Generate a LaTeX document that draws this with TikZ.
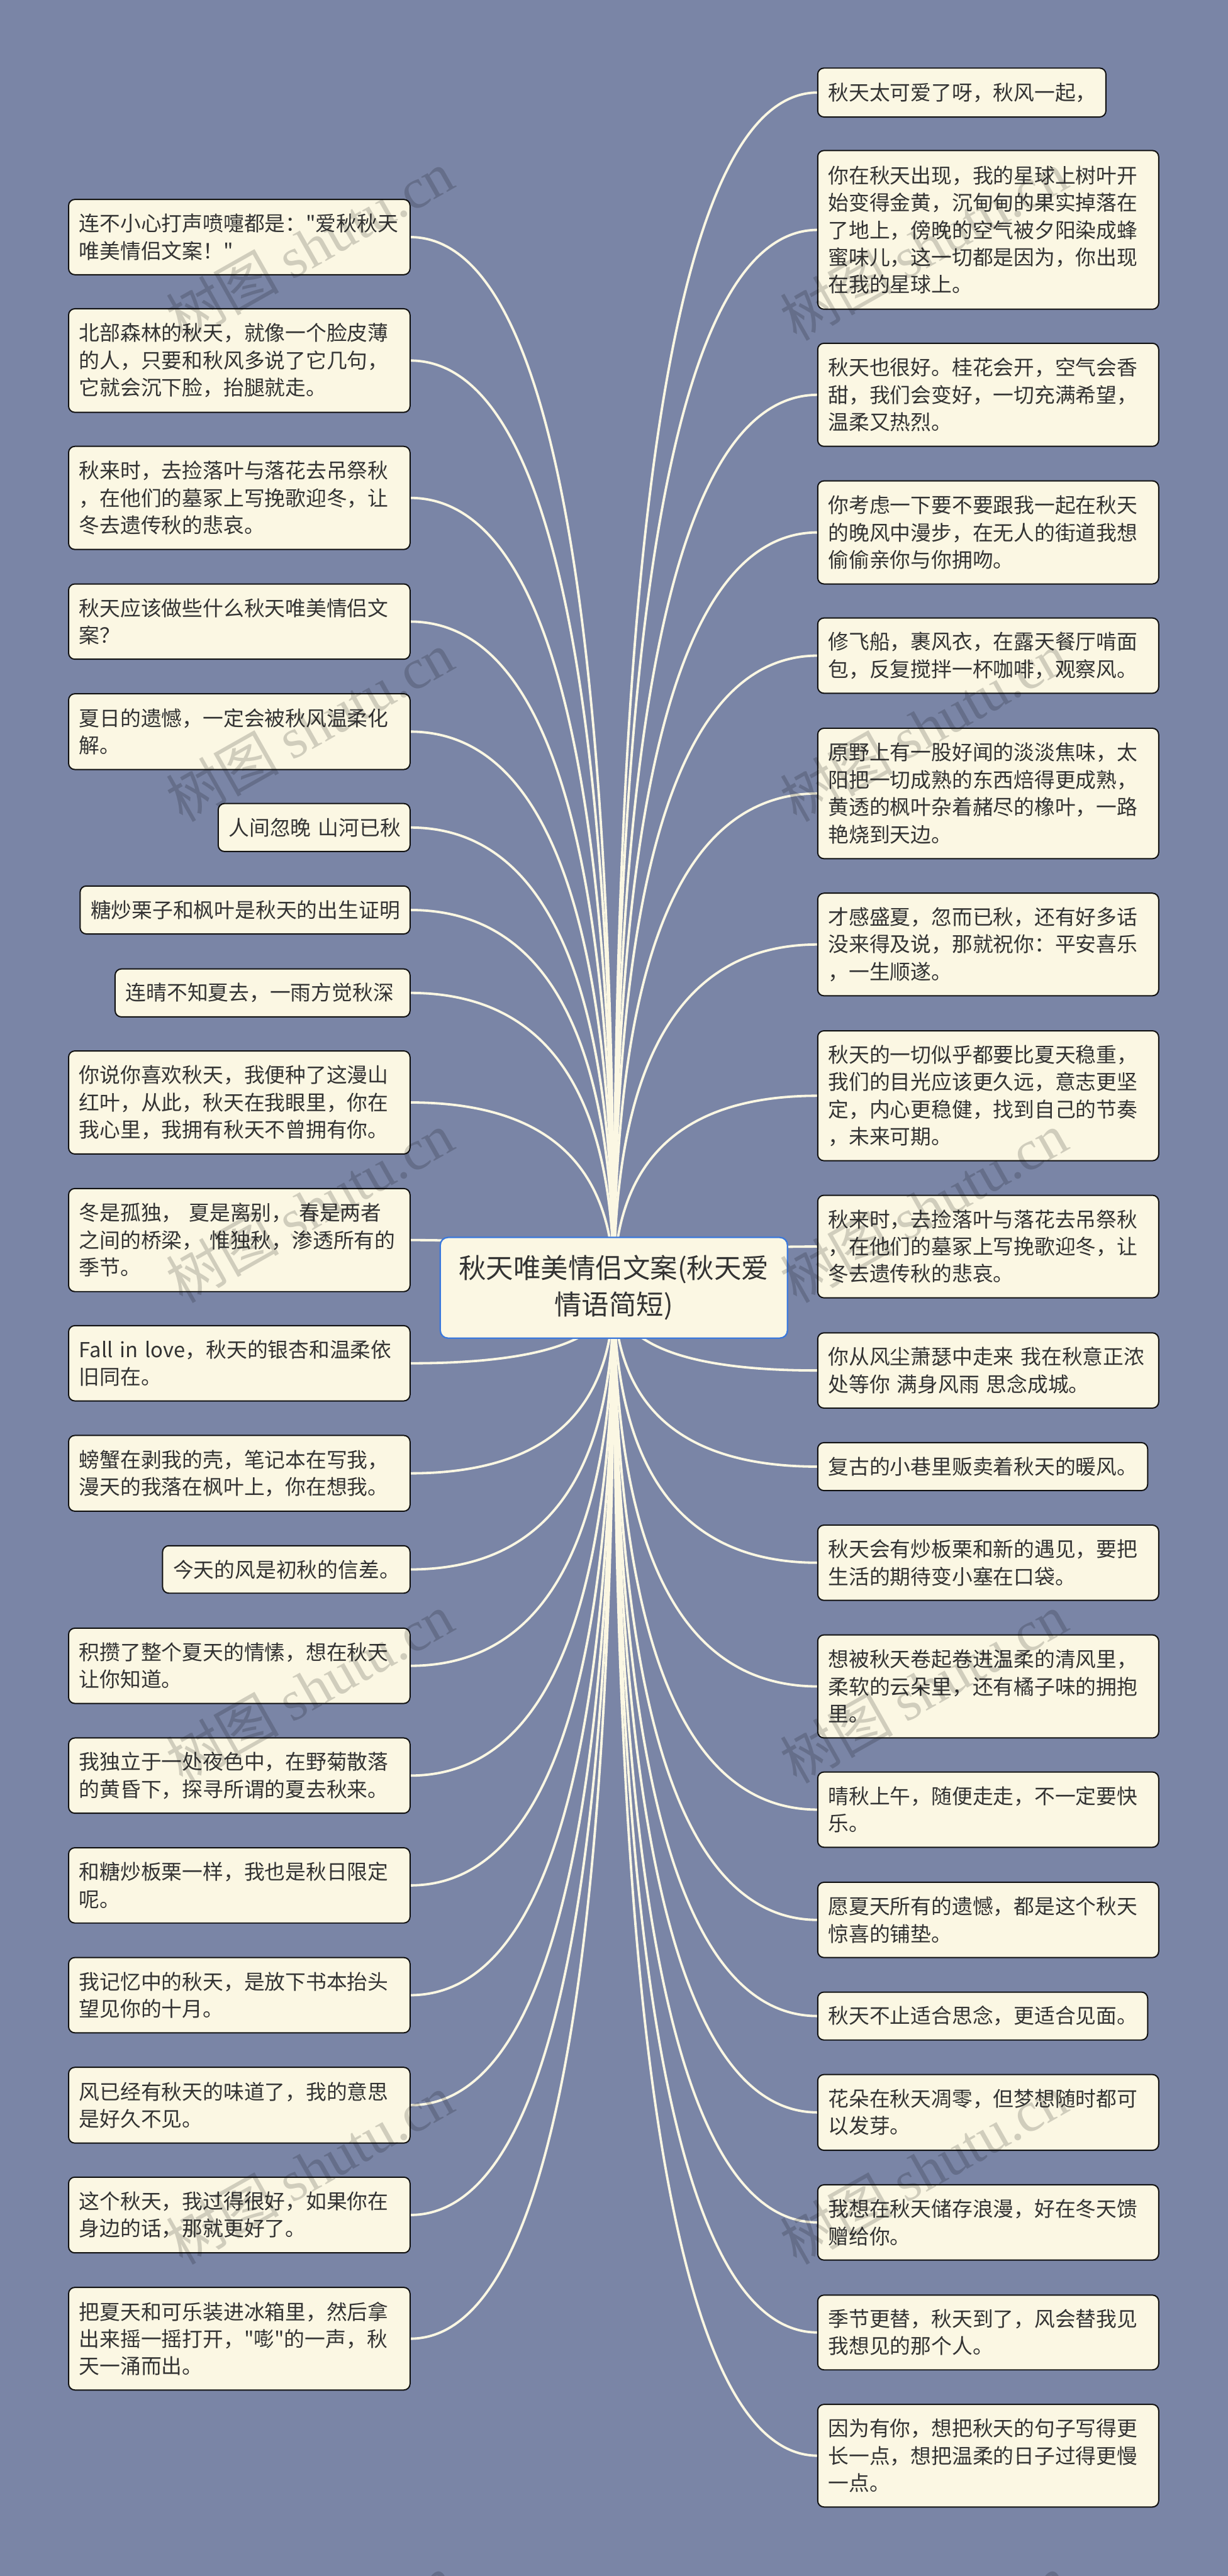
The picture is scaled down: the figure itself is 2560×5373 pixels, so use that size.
\documentclass[tikz,border=0pt]{standalone}
\usepackage{fontspec}
\setmainfont{Noto Sans CJK SC}
\newfontfamily\cjkplain{Noto Sans CJK SC}
\newfontfamily\wmlatin{Liberation Serif}
\usetikzlibrary{calc}
\definecolor{pagebg}{HTML}{7A85A6}
\definecolor{cream}{HTML}{FBF7E3}
\definecolor{ink}{HTML}{333333}
\definecolor{edge}{HTML}{111111}
\definecolor{rootedge}{HTML}{3A78DC}
\pgfdeclarelayer{under}
\pgfsetlayers{under,main}
\tikzset{
  leafbox/.style={draw=edge,fill=cream,line width=2.6pt,rounded corners=13pt,inner sep=0pt,outer sep=0pt,
    align=left,text=ink,font=\cjkplain\fontsize{43}{57}\selectfont},
  rootbox/.style={draw=rootedge,fill=cream,line width=3pt,rounded corners=16pt,inner sep=0pt,outer sep=0pt,
    align=center,text=ink,font=\cjkplain\fontsize{57}{76}\selectfont},
  linkline/.style={draw=cream,line width=5pt},
  wmark/.style={inner sep=0pt,text=black,text opacity=0.17,rotate=29.5,font=\cjkplain\fontsize{118}{118}\selectfont}
}
\newcommand{\bx}[6]{%
  \pgfmathsetmacro{\bw}{#4-#2}%
  \pgfmathsetmacro{\bh}{#5-#3}%
  \pgfmathsetmacro{\bt}{#4-#2-44}%
  \pgfmathsetmacro{\bcx}{(#2+#4)/2}%
  \pgfmathsetmacro{\bcy}{(#3+#5)/2}%
  \node[leafbox,minimum width=\bw pt,minimum height=\bh pt,text width=\bt pt] (#1) at (\bcx,\bcy) {#6};%
}
\begin{document}
\begin{tikzpicture}[x=1pt,y=-1pt]
\useasboundingbox (0,0) rectangle (2560,5373);
\begin{pgfonlayer}{under}
\fill[pagebg] (0,0) rectangle (2560,5373);
\end{pgfonlayer}

\node[rootbox,minimum width=724pt,minimum height=210pt] (c) at (1280,2686) {秋天唯美情侣文案(秋天爱\\情语简短)};

\bx{L1}{143}{416}{855}{573}{连不小心打声喷嚏都是："爱秋秋天\\唯美情侣文案！"}
\bx{L2}{143}{644}{855}{860}{北部森林的秋天，就像一个脸皮薄\\的人，只要和秋风多说了它几句，\\它就会沉下脸，抬腿就走。}
\bx{L3}{143}{931}{855}{1146}{秋来时，去捡落叶与落花去吊祭秋\\，在他们的墓冢上写挽歌迎冬，让\\冬去遗传秋的悲哀。}
\bx{L4}{143}{1218}{855}{1375}{秋天应该做些什么秋天唯美情侣文\\案？}
\bx{L5}{143}{1447}{855}{1605}{夏日的遗憾，一定会被秋风温柔化\\解。}
\bx{L6}{455}{1676}{855}{1776}{\mbox{人间忽晚 山河已秋}}
\bx{L7}{167}{1848}{855}{1948}{\mbox{糖炒栗子和枫叶是秋天的出生证明}}
\bx{L8}{240}{2021}{855}{2121}{\mbox{连晴不知夏去，一雨方觉秋深}}
\bx{L9}{143}{2192}{855}{2407}{你说你喜欢秋天，我便种了这漫山\\红叶，从此，秋天在我眼里，你在\\我心里，我拥有秋天不曾拥有你。}
\bx{L10}{143}{2479}{855}{2694}{冬是孤独， 夏是离别， 春是两者\\之间的桥梁， 惟独秋，渗透所有的\\季节。}
\bx{L11}{143}{2765}{855}{2922}{Fall in love，秋天的银杏和温柔依\\旧同在。}
\bx{L12}{143}{2994}{855}{3152}{螃蟹在剥我的壳，笔记本在写我，\\漫天的我落在枫叶上，你在想我。}
\bx{L13}{339}{3224}{855}{3323}{\mbox{今天的风是初秋的信差。}}
\bx{L14}{143}{3396}{855}{3553}{积攒了整个夏天的情愫，想在秋天\\让你知道。}
\bx{L15}{143}{3625}{855}{3782}{我独立于一处夜色中，在野菊散落\\的黄昏下，探寻所谓的夏去秋来。}
\bx{L16}{143}{3854}{855}{4011}{和糖炒板栗一样，我也是秋日限定\\呢。}
\bx{L17}{143}{4083}{855}{4240}{我记忆中的秋天，是放下书本抬头\\望见你的十月。}
\bx{L18}{143}{4312}{855}{4470}{风已经有秋天的味道了，我的意思\\是好久不见。}
\bx{L19}{143}{4541}{855}{4699}{这个秋天，我过得很好，如果你在\\身边的话，那就更好了。}
\bx{L20}{143}{4771}{855}{4985}{把夏天和可乐装进冰箱里，然后拿\\出来摇一摇打开，"嘭"的一声，秋\\天一涌而出。}

\bx{R1}{1705}{142}{2306}{244}{\mbox{秋天太可爱了呀，秋风一起，}}
\bx{R2}{1705}{314}{2416}{645}{你在秋天出现，我的星球上树叶开\\始变得金黄，沉甸甸的果实掉落在\\了地上，傍晚的空气被夕阳染成蜂\\蜜味儿，这一切都是因为，你出现\\在我的星球上。}
\bx{R3}{1705}{716}{2416}{931}{秋天也很好。桂花会开，空气会香\\甜，我们会变好，一切充满希望，\\温柔又热烈。}
\bx{R4}{1705}{1003}{2416}{1218}{你考虑一下要不要跟我一起在秋天\\的晚风中漫步，在无人的街道我想\\偷偷亲你与你拥吻。}
\bx{R5}{1705}{1289}{2416}{1446}{修飞船，裹风衣，在露天餐厅啃面\\包，反复搅拌一杯咖啡，观察风。}
\bx{R6}{1705}{1519}{2416}{1791}{原野上有一股好闻的淡淡焦味，太\\阳把一切成熟的东西焙得更成熟，\\黄透的枫叶杂着赭尽的橡叶，一路\\艳烧到天边。}
\bx{R7}{1705}{1863}{2416}{2077}{才感盛夏，忽而已秋，还有好多话\\没来得及说，那就祝你：平安喜乐\\，一生顺遂。}
\bx{R8}{1705}{2150}{2416}{2421}{秋天的一切似乎都要比夏天稳重，\\我们的目光应该更久远，意志更坚\\定，内心更稳健，找到自己的节奏\\，未来可期。}
\bx{R9}{1705}{2493}{2416}{2707}{秋来时，去捡落叶与落花去吊祭秋\\，在他们的墓冢上写挽歌迎冬，让\\冬去遗传秋的悲哀。}
\bx{R10}{1705}{2780}{2416}{2937}{你从风尘萧瑟中走来 我在秋意正浓\\处等你 满身风雨 思念成城。}
\bx{R11}{1705}{3009}{2393}{3109}{\mbox{复古的小巷里贩卖着秋天的暖风。}}
\bx{R12}{1705}{3181}{2416}{3338}{秋天会有炒板栗和新的遇见，要把\\生活的期待变小塞在口袋。}
\bx{R13}{1705}{3410}{2416}{3625}{想被秋天卷起卷进温柔的清风里，\\柔软的云朵里，还有橘子味的拥抱\\里。}
\bx{R14}{1705}{3696}{2416}{3853}{晴秋上午，随便走走，不一定要快\\乐。}
\bx{R15}{1705}{3926}{2416}{4083}{愿夏天所有的遗憾，都是这个秋天\\惊喜的铺垫。}
\bx{R16}{1705}{4155}{2393}{4255}{\mbox{秋天不止适合思念，更适合见面。}}
\bx{R17}{1705}{4327}{2416}{4485}{花朵在秋天凋零，但梦想随时都可\\以发芽。}
\bx{R18}{1705}{4557}{2416}{4714}{我想在秋天储存浪漫，好在冬天馈\\赠给你。}
\bx{R19}{1705}{4787}{2416}{4943}{季节更替，秋天到了，风会替我见\\我想见的那个人。}
\bx{R20}{1705}{5015}{2416}{5229}{因为有你，想把秋天的句子写得更\\长一点，想把温柔的日子过得更慢\\一点。}

\begin{pgfonlayer}{under}
\foreach \n in {1,...,20}{
  \draw[linkline] (L\n.east) .. controls ($(L\n.east)!.667!(c |- L\n.east)$) and ($(c.center)!.667!(c |- L\n.east)$) .. (c.center);
  \draw[linkline] (R\n.west) .. controls ($(R\n.west)!.667!(c |- R\n.west)$) and ($(c.center)!.667!(c |- R\n.west)$) .. (c.center);
}
\end{pgfonlayer}

\foreach \r/\yy in {0/512,1/1515,2/2518,3/3521,4/4524,5/5527}{
  \node[wmark] (wl\r) at (646,\yy) {树图 {\wmlatin shutu.cn}};
  \node[wmark] (wr\r) at (1926,\yy) {树图 {\wmlatin shutu.cn}};
}
\end{tikzpicture}
\end{document}
